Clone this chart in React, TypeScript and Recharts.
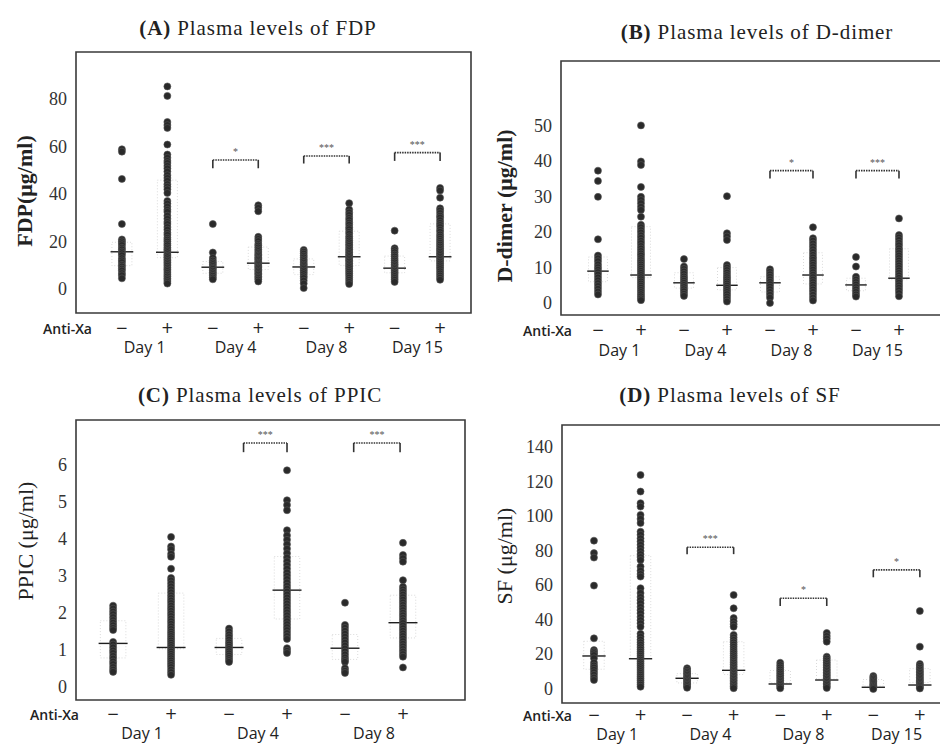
import React from "react";
import { ScatterChart, Scatter, XAxis, YAxis, ReferenceLine, ReferenceArea } from "recharts";

const days = ["Day 1", "Day 4", "Day 8", "Day 15"];

// (A) FDP, ug/ml
const fdpDay1Minus = [59, 58, 46.5, 27.5, 21, 20.2, 19.4, 18.6, 17.5, 16.8, 15.9, 15.2, 14.3, 13.1, 12.2, 11.4, 10.3, 9.6, 8.7, 7.9, 6.8, 5.9, 4.6];
const fdpDay1Plus = [85.5, 81.5, 70.5, 69.2, 68, 61, 56.8, 55.4, 54.1, 53.2, 52, 50.9, 49.6, 48.1, 46.9, 45.7, 44.3, 43.2, 42.1, 40.6, 37.2, 36.1, 34.8, 33.5, 32.6, 31, 29.7, 28.4, 27.5, 26.2, 25.1, 23.8, 22.9, 21.7, 20.9, 20.1, 19.2, 18.5, 17.6, 16.9, 16.2, 15.6, 14.8, 14.1, 13.5, 12.7, 12, 11.3, 10.6, 9.9, 9.1, 8.4, 7.7, 6.9, 6.1, 5.4, 4.6, 3.9, 3.1, 2.4];
const fdpDay4Minus = [27.5, 15.5, 13.2, 12.1, 11.3, 10.6, 9.8, 9.1, 8.6, 7.8, 7.1, 6.4, 5.7, 4.9, 4.2];
const fdpDay4Plus = [35.4, 34.3, 32.9, 22.1, 21.2, 20.3, 19.1, 18.4, 17.6, 16.8, 16.1, 15.3, 14.7, 14.1, 13.5, 12.9, 12.4, 11.8, 11.2, 10.7, 10.2, 9.6, 9.1, 8.5, 7.9, 7.3, 6.7, 6.1, 5.4, 4.8, 4.1, 3.3];
const fdpDay8Minus = [16.6, 15.8, 15, 14.1, 13.4, 12.6, 11.9, 11.1, 10.4, 9.8, 9.2, 8.6, 7.9, 7.2, 6.4, 5.5, 4.7, 3.6, 2.4, 0.5];
const fdpDay8Plus = [36.3, 33.6, 32.4, 31.3, 30.1, 29.2, 28.1, 27.2, 26.1, 25.3, 24.2, 23.4, 22.3, 21.5, 20.6, 19.8, 19, 18.3, 17.5, 16.8, 16.1, 15.4, 14.8, 14.1, 13.5, 12.8, 12.2, 11.6, 10.9, 10.2, 9.6, 8.9, 8.1, 7.4, 6.6, 5.8, 4.9, 4, 3.1, 2.2];
const fdpDay15Minus = [24.7, 17.3, 16.5, 15.6, 14.6, 13.8, 12.9, 12.1, 11.3, 10.5, 9.8, 9.1, 8.5, 7.8, 7.1, 6.4, 5.6, 4.8, 4, 3.1];
const fdpDay15Plus = [42.7, 41.6, 38.6, 34.1, 33.2, 32.1, 31, 30.2, 29.1, 28, 27.1, 26.2, 25.1, 24.2, 23.1, 22.2, 21.3, 20.4, 19.6, 18.8, 18, 17.2, 16.5, 15.8, 15.1, 14.4, 13.7, 13, 12.3, 11.6, 10.9, 10.1, 9.3, 8.5, 7.6, 6.7, 5.8, 4.9, 4];
const fdpMedians = [15.8, 15.6, 9.3, 11, 9.4, 13.7, 8.9, 13.7];
const fdpTicks = [0, 20, 40, 60, 80];

// (B) D-dimer
const ddDay1Minus = [37.4, 34.5, 30, 18, 13.4, 12.6, 11.8, 10.9, 10.1, 9.4, 8.7, 8, 7.2, 6.4, 5.6, 4.8, 4, 3.2, 2.4];
const ddDay1Plus = [50.2, 40, 39, 32.8, 30, 29.1, 28.2, 27.2, 26.3, 24.4, 22.1, 21.4, 20.6, 19.9, 19.1, 18.4, 17.6, 16.9, 16.1, 15.4, 14.7, 14, 13.4, 12.7, 12.1, 11.5, 10.9, 10.3, 9.7, 9.1, 8.5, 7.9, 7.3, 6.7, 6.1, 5.5, 4.9, 4.3, 3.7, 3.1, 2.5, 1.9, 1.3, 0.8];
const ddDay4Minus = [12.4, 10.3, 9.6, 8.9, 8.2, 7.5, 6.9, 6.3, 5.7, 5.1, 4.5, 3.9, 3.3, 2.6, 2];
const ddDay4Plus = [30.2, 19.7, 18.8, 17.8, 10.7, 10, 9.3, 8.6, 7.9, 7.3, 6.7, 6.1, 5.5, 4.9, 4.3, 3.7, 3.1, 2.5, 1.8, 1.1, 0.4];
const ddDay8Minus = [9.5, 8.8, 8.1, 7.4, 6.7, 6, 5.3, 4.6, 3.9, 3.1, 2.3, 1.5, 0];
const ddDay8Plus = [21.4, 18.3, 17.6, 16.8, 16, 15.2, 14.4, 13.6, 12.9, 12.2, 11.5, 10.8, 10.1, 9.4, 8.7, 8, 7.3, 6.6, 5.9, 5.2, 4.5, 3.8, 3.1, 2.3, 1.5, 0.7];
const ddDay15Minus = [13, 10.3, 7.4, 6.6, 5.9, 5.2, 4.5, 3.8, 3.1, 2.4, 1.8];
const ddDay15Plus = [23.9, 19.2, 18.5, 17.8, 17, 16.3, 15.5, 14.8, 14.1, 13.4, 12.7, 12, 11.3, 10.6, 9.9, 9.2, 8.5, 7.8, 7.1, 6.4, 5.7, 5, 4.3, 3.6, 2.8, 1.9];
const ddMedians = [9, 7.9, 5.7, 5, 5.7, 7.9, 5.1, 7];
const ddTicks = [0, 10, 20, 30, 40, 50];

// (C) PPIC
const ppDay1Minus = [2.2, 2.12, 2.04, 1.97, 1.89, 1.81, 1.74, 1.67, 1.6, 1.54, 1.22, 1.15, 1.07, 0.99, 0.92, 0.84, 0.77, 0.69, 0.62, 0.54, 0.47, 0.41];
const ppDay1Plus = [4.06, 3.8, 3.72, 3.6, 3.52, 3.2, 2.95, 2.88, 2.8, 2.72, 2.64, 2.56, 2.48, 2.41, 2.34, 2.27, 2.2, 2.13, 2.06, 1.99, 1.92, 1.85, 1.78, 1.71, 1.64, 1.57, 1.5, 1.44, 1.38, 1.32, 1.26, 1.2, 1.14, 1.08, 1.02, 0.96, 0.9, 0.84, 0.78, 0.72, 0.66, 0.6, 0.54, 0.47, 0.4, 0.33];
const ppDay4Minus = [1.58, 1.5, 1.42, 1.35, 1.28, 1.21, 1.15, 1.09, 1.03, 0.97, 0.91, 0.85, 0.79, 0.73, 0.68];
const ppDay4Plus = [5.86, 5.05, 4.92, 4.78, 4.24, 4.1, 3.98, 3.86, 3.74, 3.62, 3.5, 3.4, 3.3, 3.2, 3.1, 3.01, 2.92, 2.83, 2.74, 2.66, 2.58, 2.5, 2.42, 2.34, 2.26, 2.18, 2.1, 2.02, 1.94, 1.86, 1.78, 1.7, 1.62, 1.54, 1.46, 1.38, 1.3, 1.05, 0.98, 0.92];
const ppDay8Minus = [2.28, 1.68, 1.6, 1.52, 1.44, 1.36, 1.28, 1.2, 1.12, 1.04, 0.96, 0.88, 0.8, 0.73, 0.68, 0.51, 0.44, 0.38];
const ppDay8Plus = [3.9, 3.57, 3.48, 3.39, 2.89, 2.71, 2.64, 2.57, 2.5, 2.43, 2.36, 2.29, 2.22, 2.15, 2.08, 2.01, 1.94, 1.87, 1.8, 1.73, 1.66, 1.59, 1.52, 1.45, 1.38, 1.31, 1.24, 1.17, 1.1, 1.03, 0.96, 0.89, 0.82, 0.53];
const ppMedians = [1.18, 1.07, 1.07, 2.62, 1.05, 1.74];
const ppTicks = [0, 1, 2, 3, 4, 5, 6];

// (D) SF
const sfDay1Minus = [85.8, 78.6, 76, 59.8, 29.3, 22.5, 21.6, 20.7, 19.6, 17.8, 15.2, 13.6, 12.4, 11.1, 9.7, 8.2, 6.6, 5.2];
const sfDay1Plus = [123.8, 114.2, 107.5, 105.5, 100.7, 98.4, 96, 91, 89.2, 87.1, 85.3, 83.4, 81.6, 79.8, 78, 76.3, 74.6, 70.8, 68.4, 66.5, 65, 58.3, 55.5, 53.2, 51.4, 49.6, 47.5, 45.6, 43.8, 41.7, 39.8, 38, 36, 32, 30.2, 28.5, 27, 25.6, 24.2, 22.9, 21.6, 20.4, 19.2, 18.1, 17, 15.9, 14.8, 13.7, 12.6, 11.5, 10.4, 9.3, 8.2, 7.1, 6, 4.9, 3.7, 2.5, 1.3];
const sfDay4Minus = [12, 11, 10, 9.1, 8.2, 7.3, 6.5, 5.7, 4.9, 4.1, 3.3, 2.5, 1.6, 0.7];
const sfDay4Plus = [54.4, 46.7, 41, 39.2, 37.5, 36, 31.3, 29.8, 28.4, 27, 25.7, 24.4, 23.1, 21.9, 20.7, 19.5, 18.4, 17.3, 16.2, 15.2, 14.2, 13.2, 12.2, 11.3, 10.4, 9.5, 8.6, 7.7, 6.8, 5.9, 5, 4.1, 3.2, 2.3, 1.4, 0.5];
const sfDay8Minus = [15.2, 13.8, 12.5, 11.3, 10.1, 9, 7.9, 6.9, 5.9, 4.9, 4, 3.1, 2.2, 1.3, 0.4];
const sfDay8Plus = [32.4, 30.6, 29.1, 27.4, 18.7, 17.6, 16.5, 15.4, 14.4, 13.4, 12.4, 11.4, 10.5, 9.6, 8.7, 7.8, 6.9, 6, 5.1, 4.2, 3.3, 2.4, 1.5, 0.6];
const sfDay15Minus = [7.5, 6.7, 5.9, 5.1, 4.3, 3.5, 2.8, 2.1, 1.4, 0.7, 0];
const sfDay15Plus = [45.1, 24.5, 14.5, 13.4, 12.3, 11.3, 10.3, 9.4, 8.5, 7.6, 6.7, 5.8, 5, 4.2, 3.4, 2.6, 1.8, 1, 0.3];
const sfMedians = [19.1, 17.5, 6.2, 10.8, 2.9, 5.2, 1, 2.3];
const sfTicks = [0, 20, 40, 60, 80, 100, 120, 140];

type Bracket = { x1: number; x2: number; y: number; drop: number; label: string };

const fdpBrackets: Bracket[] = [
  { x1: 2, x2: 3, y: 54.5, drop: 3.5, label: "*" },
  { x1: 4, x2: 5, y: 56.2, drop: 3.2, label: "***" },
  { x1: 6, x2: 7, y: 57.6, drop: 3.5, label: "***" },
];
const ddBrackets: Bracket[] = [
  { x1: 4, x2: 5, y: 37.4, drop: 2.2, label: "*" },
  { x1: 6, x2: 7, y: 37.4, drop: 2.2, label: "***" },
];
const ppBrackets: Bracket[] = [
  { x1: 2.25, x2: 3, y: 6.6, drop: 0.25, label: "***" },
  { x1: 4.15, x2: 4.95, y: 6.6, drop: 0.25, label: "***" },
];
const sfBrackets: Bracket[] = [
  { x1: 2, x2: 3, y: 82, drop: 4, label: "***" },
  { x1: 4, x2: 5, y: 52.5, drop: 4.5, label: "*" },
  { x1: 6, x2: 7, y: 68.9, drop: 4.3, label: "*" },
];

const quantile = (vals: number[], q: number) => {
  const s = [...vals].sort((a, b) => a - b);
  const pos = (s.length - 1) * q;
  const lo = Math.floor(pos);
  const hi = Math.ceil(pos);
  return s[lo] + (s[hi] - s[lo]) * (pos - lo);
};

const SERIF = "'Liberation Serif', 'Times New Roman', serif";
const SANS = "'Open Sans', 'DejaVu Sans', sans-serif";

interface PanelProps {
  left: number;
  top: number;
  width: number;
  height: number;
  margin: { top: number; right: number; bottom: number; left: number };
  yWidth: number;
  xH: number;
  signDy: number;
  dayDy: number;
  xDomain: [number, number];
  yDomain: [number, number];
  yTicks: number[];
  groups: number[][];
  medians: number[];
  brackets: Bracket[];
  dayLabels: string[];
  title: string;
  titleX: number;
  titleY: number;
  yLabel: string;
  yLabelX: number;
  yLabelY: number;
  yLabelBold: boolean;
  antiXaRight: number;
}

function Panel(p: PanelProps) {
  const points = p.groups.flatMap((vals, i) => vals.map((v) => ({ x: i, y: v })));
  // integer ticks carry the -/+ signs, half ticks carry the day names
  const xTicks = p.groups.flatMap((_, i) => (i % 2 === 0 ? [i, i + 0.5] : [i]));
  const letter = p.title.slice(0, 3);
  const rest = p.title.slice(3);

  return (
    <>
      <div
        style={{
          position: "absolute",
          left: p.titleX - 200,
          top: p.titleY - 14,
          width: 400,
          textAlign: "center",
          fontFamily: SERIF,
          fontSize: 21,
          lineHeight: "28px",
          color: "#222",
          letterSpacing: 0.9,
        }}
      >
        <b>{letter}</b>
        {rest}
      </div>
      <div style={{ position: "absolute", left: p.left, top: p.top, width: p.width, height: p.height }}>
        <ScatterChart width={p.width} height={p.height} margin={p.margin}>
          <XAxis
            xAxisId="sign"
            type="number"
            dataKey="x"
            domain={p.xDomain}
            allowDataOverflow
            ticks={xTicks}
            interval={0}
            axisLine={false}
            tickLine={false}
            tickSize={0}
            tickMargin={0}
            height={p.xH}
            tick={(t: any) => {
              const v = t.payload.value;
              if (v % 1 !== 0) {
                return (
                  <text
                    x={t.x}
                    y={t.y + p.dayDy}
                    textAnchor="middle"
                    dominantBaseline="central"
                    fontFamily={SANS}
                    fontSize={16}
                    fill="#222"
                  >
                    {p.dayLabels[Math.floor(v / 2)]}
                  </text>
                );
              }
              return (
                <text
                  x={t.x}
                  y={t.y + p.signDy}
                  textAnchor="middle"
                  dominantBaseline="central"
                  fontFamily="'DejaVu Sans', sans-serif"
                  fontSize={15}
                  fill="#222"
                >
                  {v % 2 === 0 ? "\u2212" : "+"}
                </text>
              );
            }}
            label={(l: any) => (
              <text
                x={p.antiXaRight}
                y={(l.viewBox?.y ?? 0) + p.signDy}
                textAnchor="end"
                dominantBaseline="central"
                fontFamily={SANS}
                fontSize={14}
                fontWeight={600}
                fill="#222"
              >
                Anti-Xa
              </text>
            )}
          />
          <YAxis
            type="number"
            dataKey="y"
            domain={p.yDomain}
            allowDataOverflow
            ticks={p.yTicks}
            interval={0}
            axisLine={false}
            tickLine={false}
            tickSize={0}
            tickMargin={9}
            width={p.yWidth}
            tick={(t: any) => (
              <text
                x={t.x}
                y={t.y}
                textAnchor="end"
                dominantBaseline="central"
                fontFamily={SERIF}
                fontSize={18}
                fill="#333"
              >
                {t.payload.value}
              </text>
            )}
            label={() => (
              <text
                transform={`translate(${p.yLabelX},${p.yLabelY}) rotate(-90)`}
                textAnchor="middle"
                dominantBaseline="central"
                fontFamily={SERIF}
                fontSize={22}
                fontWeight={p.yLabelBold ? "bold" : "normal"}
                fill="#222"
              >
                {p.yLabel}
              </text>
            )}
          />
          {p.groups.map((vals, i) => (
            <ReferenceArea
              key={`iqr${i}`}
              xAxisId="sign"
              x1={i - 0.22}
              x2={i + 0.22}
              y1={quantile(vals, 0.25)}
              y2={quantile(vals, 0.75)}
              fill="none"
              stroke="#dadada"
              strokeDasharray="1 2"
              ifOverflow="visible"
            />
          ))}
          <Scatter
            xAxisId="sign"
            data={points}
            isAnimationActive={false}
            shape={(s: any) => <circle cx={s.cx} cy={s.cy} r={3.5} fill="#2a2a2a" stroke="#555" strokeWidth={0.6} />}
          />
          {p.medians.map((m, i) => (
            <ReferenceLine
              key={`med${i}`}
              xAxisId="sign"
              segment={[
                { x: i - 0.25, y: m },
                { x: i + 0.25, y: m },
              ]}
              stroke="#1e1e1e"
              strokeWidth={1.4}
              ifOverflow="visible"
            />
          ))}
          {p.brackets.map((b, i) => (
            <React.Fragment key={`br${i}`}>
              <ReferenceLine
                xAxisId="sign"
                segment={[
                  { x: b.x1, y: b.y },
                  { x: b.x2, y: b.y },
                ]}
                stroke="#333"
                strokeWidth={1.6}
                strokeDasharray="1.5 1"
                ifOverflow="visible"
                label={{ value: b.label, position: "top", fontSize: 10, fill: "#555", offset: 5 }}
              />
              <ReferenceLine
                xAxisId="sign"
                segment={[
                  { x: b.x1, y: b.y },
                  { x: b.x1, y: b.y - b.drop },
                ]}
                stroke="#333"
                strokeWidth={1.6}
                ifOverflow="visible"
              />
              <ReferenceLine
                xAxisId="sign"
                segment={[
                  { x: b.x2, y: b.y },
                  { x: b.x2, y: b.y - b.drop },
                ]}
                stroke="#333"
                strokeWidth={1.6}
                ifOverflow="visible"
              />
            </React.Fragment>
          ))}
          <ReferenceArea
            xAxisId="sign"
            x1={p.xDomain[0]}
            x2={p.xDomain[1]}
            y1={p.yDomain[0]}
            y2={p.yDomain[1]}
            fill="none"
            stroke="#3a3a3a"
            strokeWidth={1.6}
            ifOverflow="visible"
          />
        </ScatterChart>
      </div>
    </>
  );
}

export default function App() {
  return (
    <div
      style={{
        position: "absolute",
        left: 0,
        top: 0,
        width: 940,
        height: 745,
        overflow: "hidden",
        background: "#fff",
      }}
    >
      <Panel
        left={0}
        top={0}
        width={480}
        height={372}
        margin={{ top: 52, right: 9, bottom: 11, left: 0 }}
        yWidth={76}
        xH={48}
        signDy={15}
        dayDy={34}
        xDomain={[-1.01, 7.68]}
        yDomain={[-10, 100]}
        yTicks={fdpTicks}
        groups={[fdpDay1Minus, fdpDay1Plus, fdpDay4Minus, fdpDay4Plus, fdpDay8Minus, fdpDay8Plus, fdpDay15Minus, fdpDay15Plus]}
        medians={fdpMedians}
        brackets={fdpBrackets}
        dayLabels={days}
        title="(A) Plasma levels of FDP"
        titleX={258}
        titleY={28}
        yLabel="FDP(μg/ml)"
        yLabelX={24}
        yLabelY={191}
        yLabelBold
        antiXaRight={92}
      />
      <Panel
        left={470}
        top={0}
        width={480}
        height={372}
        margin={{ top: 61, right: 5, bottom: 9, left: 0 }}
        yWidth={91}
        xH={48}
        signDy={15}
        dayDy={35}
        xDomain={[-0.86, 8.07]}
        yDomain={[-3.4, 68.4]}
        yTicks={ddTicks}
        groups={[ddDay1Minus, ddDay1Plus, ddDay4Minus, ddDay4Plus, ddDay8Minus, ddDay8Plus, ddDay15Minus, ddDay15Plus]}
        medians={ddMedians}
        brackets={ddBrackets}
        dayLabels={days}
        title="(B) Plasma levels of D-dimer"
        titleX={757}
        titleY={32}
        yLabel="D-dimer (μg/ml)"
        yLabelX={34}
        yLabelY={206}
        yLabelBold
        antiXaRight={102}
      />
      <Panel
        left={0}
        top={372}
        width={470}
        height={373}
        margin={{ top: 48, right: 5, bottom: 5, left: 0 }}
        yWidth={76}
        xH={40}
        signDy={14}
        dayDy={33}
        xDomain={[-0.64, 6.07]}
        yDomain={[-0.35, 7.22]}
        yTicks={ppTicks}
        groups={[ppDay1Minus, ppDay1Plus, ppDay4Minus, ppDay4Plus, ppDay8Minus, ppDay8Plus]}
        medians={ppMedians}
        brackets={ppBrackets}
        dayLabels={days.slice(0, 3)}
        title="(C) Plasma levels of PPIC"
        titleX={260}
        titleY={395}
        yLabel="PPIC (μg/ml)"
        yLabelX={25}
        yLabelY={169}
        yLabelBold={false}
        antiXaRight={79}
      />
      <Panel
        left={470}
        top={372}
        width={480}
        height={373}
        margin={{ top: 53, right: 5, bottom: 2, left: 0 }}
        yWidth={92}
        xH={40}
        signDy={12}
        dayDy={31}
        xDomain={[-0.687, 7.54]}
        yDomain={[-8.1, 152.7]}
        yTicks={sfTicks}
        groups={[sfDay1Minus, sfDay1Plus, sfDay4Minus, sfDay4Plus, sfDay8Minus, sfDay8Plus, sfDay15Minus, sfDay15Plus]}
        medians={sfMedians}
        brackets={sfBrackets}
        dayLabels={days}
        title="(D) Plasma levels of SF"
        titleX={730}
        titleY={395}
        yLabel="SF (μg/ml)"
        yLabelX={34}
        yLabelY={184}
        yLabelBold={false}
        antiXaRight={102}
      />
    </div>
  );
}
